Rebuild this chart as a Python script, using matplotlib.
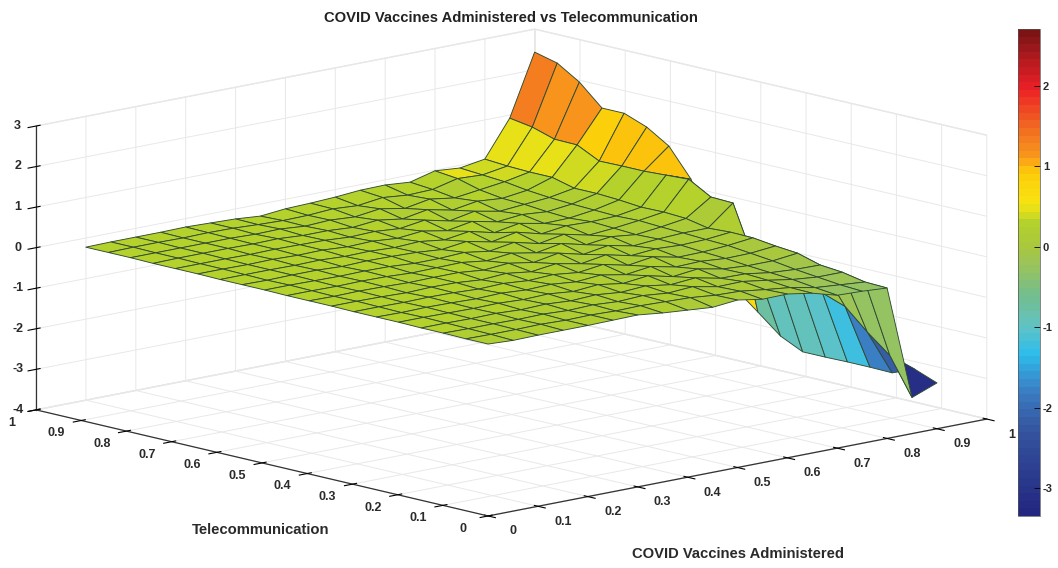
import numpy as np
import matplotlib
matplotlib.use("Agg")
import matplotlib.pyplot as plt
from matplotlib.cm import ScalarMappable
from matplotlib.colors import LinearSegmentedColormap, Normalize

plt.rcParams["font.family"] = ["Liberation Sans", "DejaVu Sans"]

# values
vaccines = [0.0, 0.05, 0.1, 0.15, 0.2, 0.25, 0.3, 0.35, 0.4, 0.45,
            0.5, 0.55, 0.6, 0.65, 0.7, 0.75, 0.8, 0.85, 0.9]
telecom = [0.0, 0.049, 0.099, 0.148, 0.198, 0.247, 0.297, 0.346, 0.396, 0.445,
           0.494, 0.544, 0.593, 0.642, 0.692, 0.741, 0.791, 0.84, 0.89]
# rows follow vaccines, columns follow telecom
surface = [
    [0.24, 0.24, 0.25, 0.25, 0.26, 0.26, 0.26, 0.27, 0.27, 0.27, 0.28, 0.28, 0.28, 0.29, 0.29, 0.29, 0.30, 0.30, 0.30],
    [0.21, 0.23, 0.24, 0.25, 0.26, 0.25, 0.26, 0.27, 0.26, 0.27, 0.28, 0.27, 0.28, 0.29, 0.29, 0.30, 0.30, 0.31, 0.31],
    [0.22, 0.23, 0.24, 0.24, 0.25, 0.26, 0.25, 0.26, 0.27, 0.26, 0.27, 0.28, 0.28, 0.28, 0.29, 0.30, 0.30, 0.31, 0.31],
    [0.22, 0.24, 0.23, 0.25, 0.24, 0.25, 0.26, 0.24, 0.26, 0.27, 0.26, 0.28, 0.27, 0.29, 0.28, 0.30, 0.30, 0.30, 0.31],
    [0.22, 0.22, 0.24, 0.22, 0.25, 0.23, 0.25, 0.26, 0.24, 0.26, 0.27, 0.25, 0.28, 0.27, 0.29, 0.29, 0.30, 0.31, 0.32],
    [0.23, 0.23, 0.21, 0.24, 0.22, 0.25, 0.22, 0.25, 0.25, 0.23, 0.26, 0.27, 0.25, 0.28, 0.28, 0.30, 0.28, 0.30, 0.30],
    [0.24, 0.21, 0.23, 0.20, 0.24, 0.21, 0.24, 0.20, 0.25, 0.24, 0.22, 0.26, 0.26, 0.24, 0.27, 0.26, 0.29, 0.27, 0.28],
    [0.17, 0.22, 0.19, 0.23, 0.18, 0.23, 0.19, 0.24, 0.19, 0.25, 0.22, 0.24, 0.23, 0.26, 0.23, 0.26, 0.24, 0.25, 0.23],
    [0.12, 0.20, 0.22, 0.17, 0.23, 0.17, 0.22, 0.16, 0.24, 0.17, 0.25, 0.19, 0.26, 0.21, 0.25, 0.22, 0.27, 0.26, 0.29],
    [0.07, 0.18, 0.16, 0.21, 0.14, 0.22, 0.15, 0.24, 0.14, 0.24, 0.16, 0.27, 0.18, 0.27, 0.20, 0.28, 0.23, 0.30, 0.31],
    [0.13, 0.12, 0.20, 0.12, 0.21, 0.11, 0.23, 0.12, 0.25, 0.13, 0.26, 0.14, 0.27, 0.16, 0.29, 0.19, 0.31, 0.26, 0.34],
    [0.03, 0.10, 0.08, 0.17, 0.07, 0.19, 0.09, 0.22, 0.10, 0.24, 0.11, 0.26, 0.12, 0.27, 0.15, 0.30, 0.20, 0.34, 0.39],
    [0.04, 0.02, 0.09, 0.04, 0.14, 0.06, 0.18, 0.08, 0.20, 0.09, 0.22, 0.10, 0.23, 0.14, 0.27, 0.17, 0.31, 0.28, 0.40],
    [-0.06, -0.05, 0.00, 0.03, 0.02, 0.08, 0.05, 0.13, 0.07, 0.17, 0.08, 0.18, 0.11, 0.20, 0.15, 0.27, 0.22, 0.30, 0.35],
    [-0.23, -0.17, -0.10, -0.06, -0.02, 0.03, 0.06, 0.10, 0.12, 0.10, 0.13, 0.16, 0.12, 0.15, 0.20, 0.22, 0.30, 0.45, 0.51],
    [-0.25, -0.22, -0.16, -0.10, -0.02, 0.04, 0.10, 0.12, 0.15, 0.17, 0.20, 0.18, 0.20, 0.22, 0.25, 0.30, 0.38, 0.42, 0.46],
    [-0.29, -0.27, -0.16, -0.11, 0.05, 0.10, 0.17, 0.18, 0.15, 0.26, 0.29, 0.28, 0.33, 0.36, 0.36, 0.50, 0.50, 0.52, 0.56],
    [-3.11, -2.20, -1.75, -1.25, -1.05, -0.95, -0.90, -0.75, 0.65, 0.67, 0.98, 0.95, 0.92, 0.92, 0.91, 1.18, 1.19, 1.36, 1.45],
    [-2.87, -2.66, -2.88, -2.87, -2.87, -2.88, -2.88, -2.62, -2.16, -1.72, -0.60, 0.73, 1.42, 1.76, 1.97, 1.97, 2.48, 2.82, 2.96],
]
axis_ticks = [0, 0.1, 0.2, 0.3, 0.4, 0.5, 0.6, 0.7, 0.8, 0.9, 1]
axis_tick_labels = ["0", "0.1", "0.2", "0.3", "0.4", "0.5", "0.6", "0.7", "0.8", "0.9", "1"]
z_ticks = [-4, -3, -2, -1, 0, 1, 2, 3]
bar_ticks = [-3, -2, -1, 0, 1, 2]
color_min, color_max = -3.35, 2.71

W, H = 1058, 568
stops = [(-3.35, "#23277f"), (-2.3, "#35559f"), (-1.8, "#3a7fc4"), (-1.35, "#2dbdec"),
         (-1.0, "#62c3c4"), (-0.6, "#74bd8c"), (-0.25, "#98c35e"), (0.0, "#a8c83e"),
         (0.3, "#b4d02c"), (0.45, "#dcdf1c"), (0.55, "#f8e312"), (0.95, "#fdcb0a"),
         (1.15, "#f9961c"), (1.4, "#f37a20"), (2.0, "#ec2027"), (2.71, "#7c1416")]
cmap = LinearSegmentedColormap.from_list(
    "bar", [((v - color_min) / (color_max - color_min), c) for v, c in stops], N=64)
norm = Normalize(color_min, color_max)

fig = plt.figure(figsize=(W / 100, H / 100), dpi=100)

# square 3d axes, bigger than the figure height so the box gets its size
side = 966
ax = fig.add_axes([15.4 / W, -200.6 / H, side / W, side / H], projection="3d")
ax.patch.set_alpha(0)
ax.set_proj_type("ortho")
ax.view_init(elev=12.33, azim=-132.3)
ax.set_box_aspect((674.6, 672, 290.7))
ax.set_xlim(0, 1, view_margin=0)
ax.set_ylim(0, 1, view_margin=0)
ax.set_zlim(-4, 3, view_margin=0)

X, Y = np.meshgrid(vaccines, telecom, indexing="ij")
Z = np.array(surface)
surf = ax.plot_surface(X, Y, Z, rstride=1, cstride=1, facecolors=cmap(norm(Z)), shade=False)
surf.set_edgecolor("#2f4a33")
surf.set_linewidth(0.65)

ax.set_xticks(axis_ticks, axis_tick_labels)
ax.set_yticks(axis_ticks, axis_tick_labels)
ax.set_zticks(z_ticks, [str(t) for t in z_ticks])
ax.zaxis.set_ticks_position("upper")
for axis in (ax.xaxis, ax.yaxis, ax.zaxis):
    axis.set_pane_color((1, 1, 1, 1))
    axis.pane.set_edgecolor("#e6e6e6")
    axis.line.set_color("#333333")
    axis.line.set_linewidth(0.9)
    axis._axinfo["grid"]["color"] = "#e8e8e8"
    axis._axinfo["grid"]["linewidth"] = 0.7
    axis._axinfo["tick"]["color"] = "#333333"
ax.tick_params(labelsize=9, labelcolor="#2a2a2a", pad=10)
ax.tick_params(axis="x", pad=12)
ax.tick_params(axis="z", pad=-1)
for lab in ax.get_xticklabels() + ax.get_yticklabels():
    lab.set_fontweight("bold")
    lab.set_va("bottom")
for lab in ax.get_zticklabels():
    lab.set_fontweight("bold")
    lab.set_va("center")

fig.text(511 / W, 1 - 18 / H, "COVID Vaccines Administered vs Telecommunication",
         ha="center", va="center", fontsize=10.6, fontweight="bold", color="#222222")
fig.text(260.5 / W, 1 - 530 / H, "Telecommunication",
         ha="center", va="center", fontsize=10.7, fontweight="bold", color="#2a2a2a")
fig.text(737.5 / W, 1 - 554 / H, "COVID Vaccines Administered",
         ha="center", va="center", fontsize=10.6, fontweight="bold", color="#2a2a2a")

cax = fig.add_axes([1018 / W, 1 - 516 / H, 22 / W, 487 / H])
cb = fig.colorbar(ScalarMappable(norm=norm, cmap=cmap), cax=cax)
cb.set_ticks(bar_ticks, labels=[str(t) for t in bar_ticks])
cb.ax.tick_params(direction="in", length=4, width=0.6, labelsize=8, pad=2, labelcolor="#2a2a2a")
for lab in cb.ax.get_yticklabels():
    lab.set_fontweight("bold")
cb.outline.set_edgecolor("#555555")
cb.outline.set_linewidth(0.5)

fig.savefig("out.png", dpi=100)
